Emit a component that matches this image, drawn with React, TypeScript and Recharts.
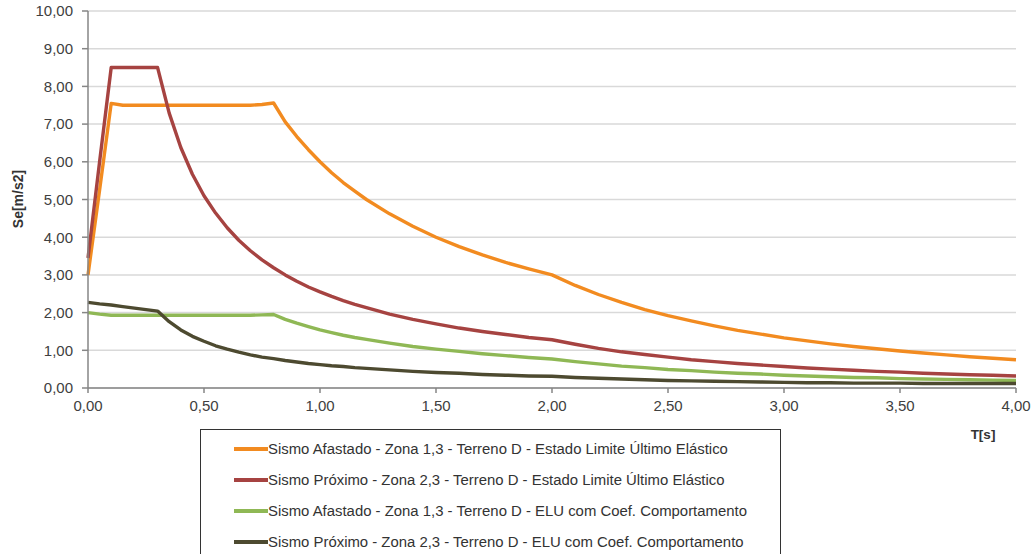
import React from 'react'
import { CartesianGrid, Line, LineChart, XAxis, YAxis } from 'recharts'

// periods T [s]
const periods = [
  0, 0.05, 0.1, 0.15, 0.2, 0.25, 0.3, 0.35, 0.4, 0.45, 0.5, 0.55, 0.6, 0.65, 0.7, 0.75, 0.8, 0.85, 0.9, 0.95, 1.0,
  1.05, 1.1, 1.15, 1.2, 1.3, 1.4, 1.5, 1.6, 1.7, 1.8, 1.9, 2.0,
  2.1, 2.2, 2.3, 2.4, 2.5, 2.6, 2.7, 2.8, 2.9, 3.0, 3.1, 3.2, 3.3, 3.4, 3.5, 3.6, 3.7, 3.8, 3.9, 4.0,
]

// Se [m/s2]
const afastadoElastico = [
  3.0, 5.25, 7.55, 7.5, 7.5, 7.5, 7.5, 7.5, 7.5, 7.5, 7.5, 7.5, 7.5, 7.5, 7.5, 7.52, 7.56, 7.06, 6.67, 6.32, 6.0,
  5.71, 5.45, 5.22, 5.0, 4.62, 4.29, 4.0, 3.75, 3.53, 3.33, 3.16, 3.0,
  2.72, 2.48, 2.27, 2.08, 1.92, 1.78, 1.65, 1.53, 1.43, 1.33, 1.25, 1.17, 1.1, 1.04, 0.98, 0.93, 0.88, 0.83, 0.79, 0.75,
]
const proximoElastico = [
  3.45, 6.0, 8.5, 8.5, 8.5, 8.5, 8.5, 7.29, 6.38, 5.67, 5.1, 4.64, 4.25, 3.92, 3.64, 3.4, 3.19, 3.0, 2.83, 2.68, 2.55,
  2.43, 2.32, 2.22, 2.13, 1.96, 1.82, 1.7, 1.59, 1.5, 1.42, 1.34, 1.28,
  1.16, 1.05, 0.96, 0.89, 0.82, 0.75, 0.7, 0.65, 0.61, 0.57, 0.53, 0.5, 0.47, 0.44, 0.42, 0.39, 0.37, 0.35, 0.34, 0.32,
]
const afastadoCoef = [
  2.0, 1.96, 1.93, 1.93, 1.93, 1.93, 1.93, 1.93, 1.93, 1.93, 1.93, 1.93, 1.93, 1.93, 1.93, 1.94, 1.95, 1.82, 1.72, 1.63, 1.54,
  1.47, 1.4, 1.34, 1.29, 1.19, 1.1, 1.03, 0.97, 0.91, 0.86, 0.81, 0.77,
  0.7, 0.64, 0.58, 0.54, 0.49, 0.46, 0.42, 0.39, 0.37, 0.34, 0.32, 0.3, 0.28, 0.27, 0.25, 0.24, 0.23, 0.22, 0.21, 0.2,
]
const proximoCoef = [
  2.27, 2.23, 2.2, 2.16, 2.12, 2.08, 2.04, 1.76, 1.54, 1.37, 1.24, 1.12, 1.03, 0.95, 0.88, 0.82, 0.78, 0.73, 0.69, 0.65, 0.62,
  0.59, 0.57, 0.54, 0.52, 0.48, 0.44, 0.41, 0.39, 0.36, 0.34, 0.32, 0.31,
  0.28, 0.26, 0.24, 0.22, 0.2, 0.19, 0.18, 0.17, 0.16, 0.15, 0.14, 0.14, 0.13, 0.13, 0.13, 0.12, 0.12, 0.12, 0.12, 0.12,
]

const xTicks = [0, 0.5, 1, 1.5, 2, 2.5, 3, 3.5, 4]
const yTicks = [0, 1, 2, 3, 4, 5, 6, 7, 8, 9, 10]

const SERIES = [
  { key: 'afastadoElastico', color: '#f28b20', name: 'Sismo Afastado - Zona 1,3 - Terreno D - Estado Limite Último Elástico' },
  { key: 'proximoElastico', color: '#a64341', name: 'Sismo Próximo - Zona 2,3 - Terreno D - Estado Limite Último Elástico' },
  { key: 'afastadoCoef', color: '#8fb855', name: 'Sismo Afastado - Zona 1,3 - Terreno D - ELU com Coef. Comportamento' },
  { key: 'proximoCoef', color: '#4d4a30', name: 'Sismo Próximo - Zona 2,3 - Terreno D - ELU com Coef. Comportamento' },
]

const chartData = periods.map((t, i) => ({
  t,
  afastadoElastico: afastadoElastico[i],
  proximoElastico: proximoElastico[i],
  afastadoCoef: afastadoCoef[i],
  proximoCoef: proximoCoef[i],
}))

const FONT = '"Liberation Sans", Arial, sans-serif'
const fmt = (v: number) => v.toFixed(2).replace('.', ',')

export default function App() {
  return (
    <div style={{ position: 'relative', width: 1033, height: 554, overflow: 'hidden', background: '#fff', fontFamily: FONT }}>
      <style>{'body{margin:0}'}</style>
      <LineChart width={1033} height={554} data={chartData} margin={{ top: 11, right: 17, left: 0, bottom: 126 }}>
        <CartesianGrid vertical={false} stroke="#d9d9d9" strokeWidth={1.5} />
        <XAxis
          dataKey="t"
          type="number"
          domain={[0, 4]}
          ticks={xTicks}
          tickFormatter={fmt}
          height={40}
          tickSize={5}
          tickMargin={7}
          axisLine={{ stroke: '#868686', strokeWidth: 1.5 }}
          tickLine={{ stroke: '#868686', strokeWidth: 1.5 }}
          tick={{ fontSize: 15, fill: '#404040', fontFamily: FONT }}
          label={() => (
            <text x={983} y={439} textAnchor="middle" fontSize={13.5} fontWeight="bold" fill="#333" fontFamily={FONT}>
              T[s]
            </text>
          )}
        />
        <YAxis
          type="number"
          domain={[0, 10]}
          ticks={yTicks}
          tickFormatter={fmt}
          width={88}
          tickSize={6}
          tickMargin={9}
          interval={0}
          axisLine={{ stroke: '#868686', strokeWidth: 1.5 }}
          tickLine={{ stroke: '#868686', strokeWidth: 1.5 }}
          tick={{ fontSize: 15, fill: '#404040', fontFamily: FONT }}
          label={() => (
            <text
              x={18}
              y={199}
              transform="rotate(-90, 18, 199)"
              textAnchor="middle"
              dominantBaseline="central"
              fontSize={14}
              fontWeight="bold"
              fill="#333"
              fontFamily={FONT}
            >
              Se[m/s2]
            </text>
          )}
        />
        {SERIES.map((s) => (
          <Line
            key={s.key}
            type="linear"
            dataKey={s.key}
            stroke={s.color}
            strokeWidth={3.4}
            strokeLinejoin="round"
            dot={false}
            activeDot={false}
            isAnimationActive={false}
          />
        ))}
      </LineChart>
      <div
        style={{
          position: 'absolute',
          left: 200,
          top: 429,
          width: 581,
          height: 160,
          border: '1px solid #333',
          boxSizing: 'border-box',
          paddingTop: 3,
        }}
      >
        {SERIES.map((s) => (
          <div key={s.key} style={{ display: 'flex', alignItems: 'center', height: 31 }}>
            <span style={{ display: 'inline-block', marginLeft: 33, width: 34, height: 4, background: s.color }} />
            <span style={{ fontSize: 14.9, color: '#333', whiteSpace: 'nowrap' }}>{s.name}</span>
          </div>
        ))}
      </div>
    </div>
  )
}
